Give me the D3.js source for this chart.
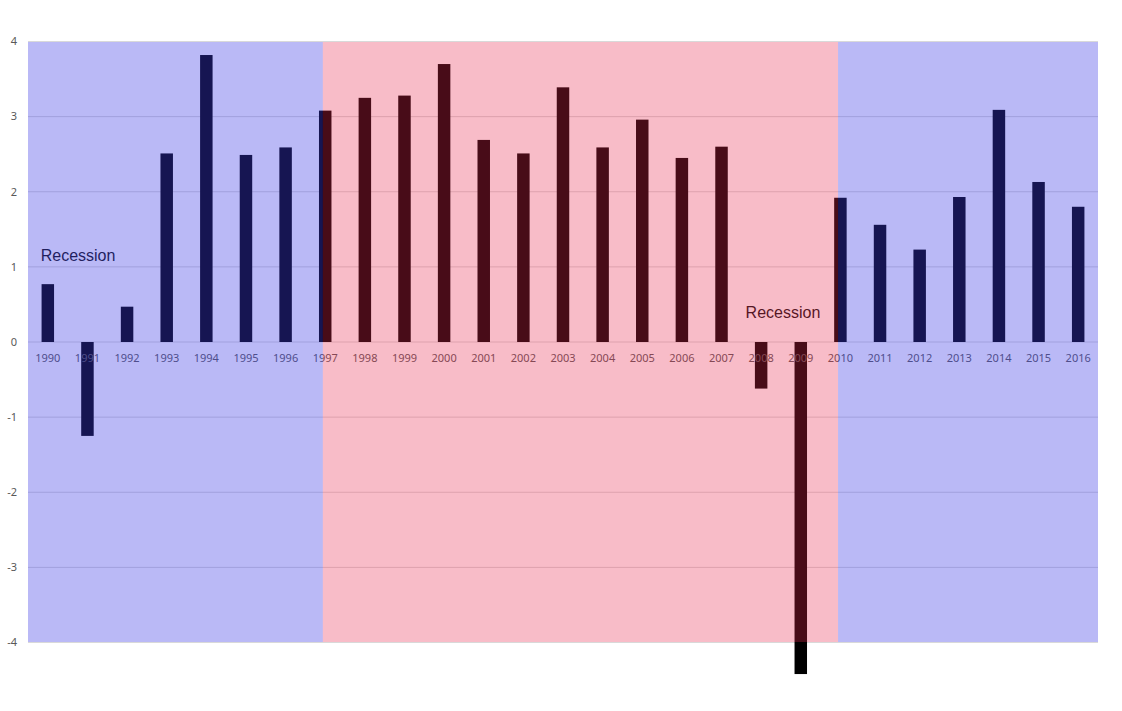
<!DOCTYPE html>
<html lang="en">
<head>
    <meta charset="UTF-8">
    <title>GDP growth 1990-2016</title>
    <script src="https://d3js.org/d3.v7.min.js"></script>
    <style>
        body { margin: 0; background: #fff; }
    </style>
</head>
<body>
    <div id="chart"></div>

    <script>
        // Data
        const years = [1990, 1991, 1992, 1993, 1994, 1995, 1996, 1997, 1998, 1999,
            2000, 2001, 2002, 2003, 2004, 2005, 2006, 2007, 2008, 2009,
            2010, 2011, 2012, 2013, 2014, 2015, 2016];
        const growth = [0.77, -1.25, 0.47, 2.51, 3.82, 2.49, 2.59, 3.08, 3.25, 3.28,
            3.70, 2.69, 2.51, 3.39, 2.59, 2.96, 2.45, 2.60, -0.62, -4.42,
            1.92, 1.56, 1.23, 1.93, 3.09, 2.13, 1.80];
        const yTicks = [-4, -3, -2, -1, 0, 1, 2, 3, 4];
        // shaded periods, in year units (edges between bands)
        const periodBreaks = [1989.5, 1996.94, 2009.94, 2016.5];
        const periodKinds = ["blue", "pink", "blue"];
        const noteText = ["Recession", "Recession"];
        const noteYear = [1989.82, 2008.55];
        const noteValue = [1.08, 0.32];

        const width = 1122;
        const height = 711;
        const margin = { top: 41.5, right: 24, bottom: 68.5, left: 28 };

        const svg = d3.select("#chart")
            .append("svg")
            .attr("width", width)
            .attr("height", height);

        const x = d3.scaleBand()
            .domain(years)
            .range([margin.left, width - margin.right])
            .paddingInner(0.685)
            .paddingOuter(0.3425);

        // continuous year scale for the shaded periods and notes
        const xYear = d3.scaleLinear()
            .domain([years[0] - 0.5, years[years.length - 1] + 0.5])
            .range([margin.left, width - margin.right]);

        const y = d3.scaleLinear()
            .domain([-4, 4])
            .range([height - margin.bottom, margin.top]);

        const tint = {
            blue: "rgba(62, 58, 230, 0.357)",
            pink: "rgba(232, 39, 77, 0.31)"
        };

        // gridlines
        svg.append("g")
            .selectAll("line")
            .data(yTicks)
            .enter()
            .append("line")
            .attr("x1", margin.left)
            .attr("x2", width - margin.right)
            .attr("y1", d => y(d))
            .attr("y2", d => y(d))
            .attr("stroke", "#d9d9d9")
            .attr("stroke-width", 1);

        // y tick labels
        svg.append("g")
            .selectAll("text")
            .data(yTicks)
            .enter()
            .append("text")
            .attr("x", 17)
            .attr("y", d => y(d))
            .attr("dy", "0.35em")
            .attr("text-anchor", "end")
            .attr("fill", "#595959")
            .style("font", "11px 'Noto Sans', sans-serif")
            .text(d => d);

        // bars
        svg.append("g")
            .selectAll("rect")
            .data(growth)
            .enter()
            .append("rect")
            .attr("x", (d, i) => x(years[i]))
            .attr("y", d => y(Math.max(0, d)))
            .attr("width", x.bandwidth())
            .attr("height", d => Math.abs(y(d) - y(0)))
            .attr("fill", "#000");

        // year labels, sitting just under the zero line
        svg.append("g")
            .selectAll("text")
            .data(years)
            .enter()
            .append("text")
            .attr("x", d => x(d) + x.bandwidth() / 2)
            .attr("y", y(0) + 20)
            .attr("text-anchor", "middle")
            .attr("fill", "#595959")
            .style("font", "11px 'Noto Sans', sans-serif")
            .text(d => d);

        // recession notes
        svg.append("g")
            .selectAll("text")
            .data(noteText)
            .enter()
            .append("text")
            .attr("x", (d, i) => xYear(noteYear[i]))
            .attr("y", (d, i) => y(noteValue[i]))
            .attr("text-anchor", (d, i) => i === 0 ? "start" : "middle")
            .attr("fill", "#111")
            .style("font", "16px 'Liberation Sans', Arial, sans-serif")
            .text(d => d);

        // translucent period shading laid over everything
        svg.append("g")
            .selectAll("rect")
            .data(periodKinds)
            .enter()
            .append("rect")
            .attr("x", (d, i) => xYear(periodBreaks[i]))
            .attr("width", (d, i) => xYear(periodBreaks[i + 1]) - xYear(periodBreaks[i]))
            .attr("y", y(4) + 0.5)
            .attr("height", y(-4) - y(4) - 1)
            .attr("fill", d => tint[d]);
    </script>
</body>
</html>
